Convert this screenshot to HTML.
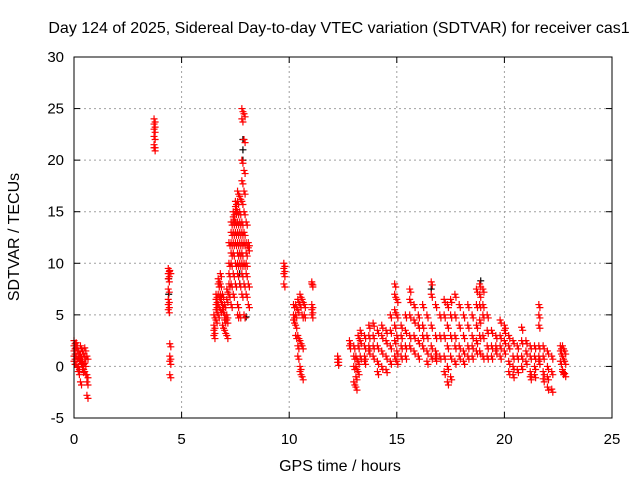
<!DOCTYPE html>
<html><head><meta charset="utf-8"><style>
html,body{margin:0;padding:0;background:#fff;}
svg text{font-family:"Liberation Sans",sans-serif;font-size:15px;fill:#000;}
</style></head><body>
<svg id="chart" width="640" height="480" viewBox="0 0 640 480" xmlns="http://www.w3.org/2000/svg">
<rect width="640" height="480" fill="#fff"/>
<text x="339" y="33" text-anchor="middle" style="font-size:16px">Day 124 of 2025, Sidereal Day-to-day VTEC variation (SDTVAR) for receiver cas1</text>
<g id="grid"></g><g id="ticks"></g><g id="marks"></g>
<rect x="74" y="57" width="538" height="361" fill="none" stroke="#000" stroke-width="1"/>
<text x="340" y="471" text-anchor="middle" style="font-size:16px">GPS time / hours</text>
<text transform="translate(19,237) rotate(-90)" text-anchor="middle" style="font-size:16px">SDTVAR / TECUs</text>
</svg>
<script>
const xTicks=[0,5,10,15,20,25];
const yTicks=[-5,0,5,10,15,20,25,30];
const redHours=[0.0,0.1,0.2,0.3,0.4,0.5,0.6,3.72,4.38,4.45,6.5,6.6,6.7,6.8,6.9,7.0,7.1,7.2,7.3,7.4,7.5,7.6,7.7,7.8,7.9,8.0,8.1,9.75,10.2,10.3,10.4,10.5,10.6,10.7,11.05,12.25,12.8,13.0,13.1,13.2,13.3,13.5,13.7,13.9,14.1,14.3,14.5,14.7,14.9,15.0,15.2,15.4,15.6,15.8,16.0,16.2,16.4,16.6,16.8,17.0,17.2,17.35,17.5,17.7,17.9,18.1,18.3,18.5,18.7,18.85,19.0,19.2,19.4,19.6,19.8,20.0,20.2,20.4,20.6,20.8,21.0,21.2,21.4,21.6,21.8,22.0,22.2,22.6,22.7,22.8];
const redValues=[[2.5,2,1.5,1,0.5],[2.3,1.8,1,0.2],[1.5,0.8,0,-0.5],[2,1.2,0.5,-1.5],[1.5,0.5,0,-0.3],[1.8,1,0.3,-0.5],[1,-0.8,-1.5,-2.8],
[24,23.5,23,22.3,21.5,21.2],[9.5,9,8.5,7.5,6.5,6,5.5],[9.3,2.2,1,0.5,-0.8],
[3,3.5,4,5],[6,6.5,7,5.5,4.5],[7,8,8.5,6,5],[9,8,7,6.5,5.5],[7,6,5.5,4],[6,5,4.5,3.5],[7.5,6.5,5,4.5,3],[12,10,9,8,7],[14,13,12,11,10,8,6],[15,14.5,14,13,12,11,9,7],[16,15.5,15,14,13,12,10,8],[17,16,15,14,13,12,11,10,9,6,5],[16.5,15,14,13,12,11,10,8,5],[25,24,20,18,16,14,13,12,11,10,9,7],[24.5,22,19,17,15,13,12,10,8,5],[14,12,11,10,9,7],[12,11.5,8,6],
[10,9.5,9,8],[5,4.5,6],[6,5,4,3],[6.5,5.5,3,2,1],[7,6,2.5,0,-0.5],[6.5,5,2,-1],[6,5],[8.2,8,6,5.5,5],[1,0.7,0.4],
[2.5,2],[2,1,0,-1.5],[1,0,-1,-2],[3,2,0.5,-0.5],[3.5,2.5,1],[3,2,1,0.5],[4,3,2,1.5],[4.2,3,2,1],[3.5,2,0.5,-0.5],[4,3,1.5,0],[3.5,2.5,1,-0.3],[5,3.5,2,0.5],[8,7,5.5,4,2.5,1],[6.5,5,3,1.5,0.5],[4,3,2,1],[5,3.5,2,1],[7.5,6.5,5,3,2],[6,4.5,3,1.5],[5,4,2.5,1],[6,4,3,2],[5,3,1.5,0.5],[8.2,7,4,2,1],[6,3,1.5,0.8],[5,3,1],[6.5,5,3,1,-0.5],[6,4,2,0,-1.5],[6.5,5,3,1,-1],[7,5,3,2,0.5],[6,4,2,1],[5,3,1.5,0.5],[6,4,2,1],[5,3,2,1],[7.5,6,4,2.5,1.5],[8,7,6,4.5,3,1.5],[7.5,6,5,3,1],[5,3.5,2,1],[3.5,2,1],[3,2,1.5],[4.5,3,2,1],[4,3.5,2.5,1.5],[3,2,0.5,-0.5],[2.5,1,0,-0.8],[2,1,-0.3],[3.8,2.5,1,0],[2.5,1.5,0.5],[2,1,-0.5,-1],[2,1,0,-0.8],[6,5,4,2,1,0.5],[2,1,-0.5,-1.2],[1.5,0,-1,-2],[1,-0.5,-2.2],[2,1.5,0.5],[2,1,-0.3,-0.5],[1.5,0.5,-0.7]];
const blackHours=[4.4,7.7,7.85,8.0,16.6,18.9];
const blackValues=[[7,8.5],[9,8],[22,21,20],[4.8],[7.5],[8.3]];
const NS="http://www.w3.org/2000/svg";
const X0=74,X1=612,Y0=418,Y1=57;
const xs=v=>X0+(v-0)/25*(X1-X0);
const ys=v=>Y0-(v+5)/35*(Y0-Y1);
function mk(tag,attrs,parent){const e=document.createElementNS(NS,tag);for(const k in attrs)e.setAttribute(k,attrs[k]);parent.appendChild(e);return e;}
const grid=document.getElementById('grid'),ticks=document.getElementById('ticks'),marks=document.getElementById('marks');
yTicks.forEach(t=>{const y=ys(t);
 if(t>-5&&t<30){const g=mk('line',{x1:X0,x2:X1,y1:y,y2:y,stroke:'#a0a0a0','stroke-dasharray':'2,3'},grid);
 
 }
 mk('line',{x1:X0,x2:X0+6,y1:y,y2:y,stroke:'#000'},ticks);mk('line',{x1:X1,x2:X1-6,y1:y,y2:y,stroke:'#000'},ticks);
 const l=mk('text',{x:X0-10,y:y+5,'text-anchor':'end'},ticks);l.textContent=t;
 
 });
xTicks.forEach(t=>{const x=xs(t);
 if(t>0&&t<25){const g=mk('line',{x1:x,x2:x,y1:Y0,y2:Y1,stroke:'#a0a0a0','stroke-dasharray':'2,3'},grid);
 
 }
 mk('line',{x1:x,x2:x,y1:Y0,y2:Y0-6,stroke:'#000'},ticks);mk('line',{x1:x,x2:x,y1:Y1,y2:Y1+6,stroke:'#000'},ticks);
 const l=mk('text',{x:x,y:Y0+26,'text-anchor':'middle'},ticks);l.textContent=t;
 
 });
function plus(t,v,col,name){const x=xs(t),y=ys(v);
 const p=mk('path',{d:`M${x-3.5},${y}H${x+3.5}M${x},${y-3.5}V${y+3.5}`,stroke:col,'stroke-width':1.2,fill:'none'},marks);
 
 }
blackHours.forEach((t,i)=>blackValues[i].forEach(v=>plus(t,v,'#000','point-black')));
redHours.forEach((t,i)=>redValues[i].forEach(v=>{plus(t,v,'#ff0000','point-red');plus(t+0.05,v-0.3,'#ff0000','point-red');}));
</script>
</body></html>
